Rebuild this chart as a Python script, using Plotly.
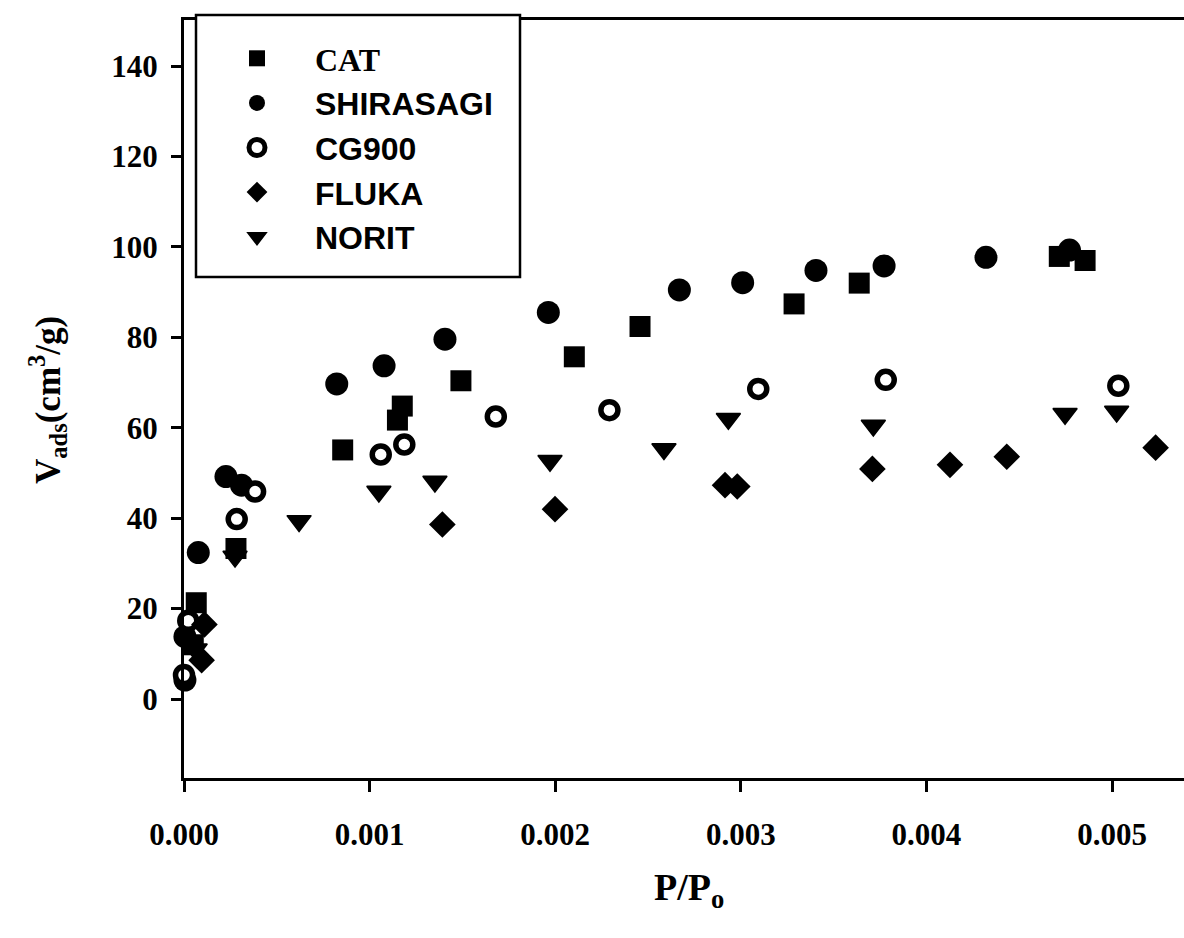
import plotly.graph_objects as go

# ---- data ----
cat_x = [0.000050, 0.000066, 0.000280, 0.000855, 0.001150, 0.001176, 0.001492,
         0.002103, 0.002457, 0.003287, 0.003638, 0.004716, 0.004855]
cat_y = [12.0, 21.3, 33.3, 55.1, 61.7, 64.8, 70.4, 75.7, 82.4, 87.4, 92.0, 97.9, 97.0]

shira_x = [0.000005, 0.000005, 0.000077, 0.000226, 0.000310, 0.000823, 0.001078,
           0.001406, 0.001963, 0.002669, 0.003010, 0.003405, 0.003772, 0.004321, 0.004771]
shira_y = [4.2, 13.8, 32.4, 49.2, 47.3, 69.7, 73.7, 79.6, 85.5, 90.5, 92.1, 94.8,
           95.8, 97.7, 99.3]

cg_x = [0.000000, 0.000023, 0.000284, 0.000383, 0.001060, 0.001187, 0.001680,
        0.002292, 0.003094, 0.003781, 0.005034]
cg_y = [5.3, 17.3, 39.8, 45.9, 54.1, 56.3, 62.5, 63.9, 68.6, 70.6, 69.3]

fluka_x = [0.000095, 0.000110, 0.001392, 0.001999, 0.002915, 0.002981, 0.003709,
           0.004127, 0.004433, 0.005235]
fluka_y = [8.6, 16.5, 38.6, 42.0, 47.3, 47.0, 50.9, 51.8, 53.6, 55.6]

norit_x = [0.000060, 0.000275, 0.000620, 0.001050, 0.001352, 0.001972, 0.002586,
           0.002933, 0.003714, 0.004747, 0.005025]
norit_y = [11.0, 31.5, 39.4, 45.9, 48.1, 52.7, 55.3, 62.0, 60.5, 63.1, 63.6]

series_names = ["CAT", "SHIRASAGI", "CG900", "FLUKA", "NORIT"]
x_ticks = [0.000, 0.001, 0.002, 0.003, 0.004, 0.005]
y_ticks = [0, 20, 40, 60, 80, 100, 120, 140]

# ---- styling ----
SERIF = "Liberation Serif"
SANS = "Liberation Sans"


def lname(n, serif=False):
    if serif:
        return f"<span style='font-family:{SERIF}'>{n}</span>"
    return n


fig = go.Figure()
fig.add_trace(go.Scatter(x=cat_x, y=cat_y, mode="markers", name=lname(series_names[0], True),
                         marker=dict(symbol="square", size=21, color="black", line=dict(width=0)),
                         cliponaxis=False))
fig.add_trace(go.Scatter(x=shira_x, y=shira_y, mode="markers", name=lname(series_names[1]),
                         marker=dict(symbol="circle", size=23, color="black", line=dict(width=0)),
                         cliponaxis=False))
fig.add_trace(go.Scatter(x=cg_x, y=cg_y, mode="markers", name=lname(series_names[2]),
                         marker=dict(symbol="circle", size=17, color="white",
                                     line=dict(width=5.5, color="black")),
                         cliponaxis=False))
fig.add_trace(go.Scatter(x=fluka_x, y=fluka_y, mode="markers", name=lname(series_names[3]),
                         marker=dict(symbol="diamond", size=20.5, color="black", line=dict(width=0)),
                         cliponaxis=False))
fig.add_trace(go.Scatter(x=norit_x, y=norit_y, mode="markers", name=lname(series_names[4]),
                         marker=dict(symbol="triangle-down", size=21, color="black",
                                     line=dict(width=1.5, color="black")),
                         cliponaxis=False))

# legend frame (white box with black border) drawn as a layout shape
PLOT_L, PLOT_R, PLOT_T, PLOT_B = 184, 1184, 20, 778
def px_x(p):
    return (p - PLOT_L) / (PLOT_R - PLOT_L)
def px_y(p):
    return (PLOT_B - p) / (PLOT_B - PLOT_T)

fig.update_layout(
    width=1184, height=938,
    margin=dict(l=184, r=0, t=20, b=160),
    paper_bgcolor="white", plot_bgcolor="white",
    showlegend=True,
    legend=dict(
        x=px_x(199), y=px_y(31), xanchor="left", yanchor="top",
        bgcolor="rgba(0,0,0,0)", borderwidth=0,
        font=dict(family=SANS, size=32, color="black", weight="bold"),
        itemwidth=106, tracegroupgap=0,
    ),
    shapes=[
        dict(type="rect", xref="paper", yref="paper",
             x0=px_x(196), x1=px_x(520), y0=px_y(277), y1=px_y(15),
             line=dict(color="black", width=2.5), fillcolor="white", layer="above"),
    ],
    annotations=[
        dict(text="P/P<sub>o</sub>", xref="paper", yref="paper", x=0.505, y=px_y(890),
             xanchor="center", yanchor="middle", showarrow=False,
             font=dict(family=SERIF, size=38, color="black", weight="bold")),
        dict(text="V<sub>ads</sub>(cm<sup>3</sup>/g)", xref="paper", yref="paper",
             x=px_x(47), y=px_y(400), xanchor="center", yanchor="middle", textangle=-90,
             showarrow=False,
             font=dict(family=SERIF, size=35, color="black", weight="bold")),
    ],
)

fig.update_xaxes(
    range=[0, 0.0053879], tickvals=x_ticks, tickformat=".3f",
    showline=True, linecolor="black", linewidth=3, mirror=True,
    ticks="outside", ticklen=11, tickwidth=2.5, tickcolor="black",
    showgrid=False, zeroline=False,
    tickfont=dict(family=SERIF, size=31, color="black", weight="bold"),
    ticklabelstandoff=16,
)
fig.update_yaxes(
    range=[-17.47, 150.2], tickvals=y_ticks,
    showline=True, linecolor="black", linewidth=3, mirror=False,
    ticks="outside", ticklen=10, tickwidth=2.5, tickcolor="black",
    showgrid=False, zeroline=False,
    tickfont=dict(family=SERIF, size=31, color="black", weight="bold"),
    ticklabelstandoff=7,
)

fig.write_html("out.html")
